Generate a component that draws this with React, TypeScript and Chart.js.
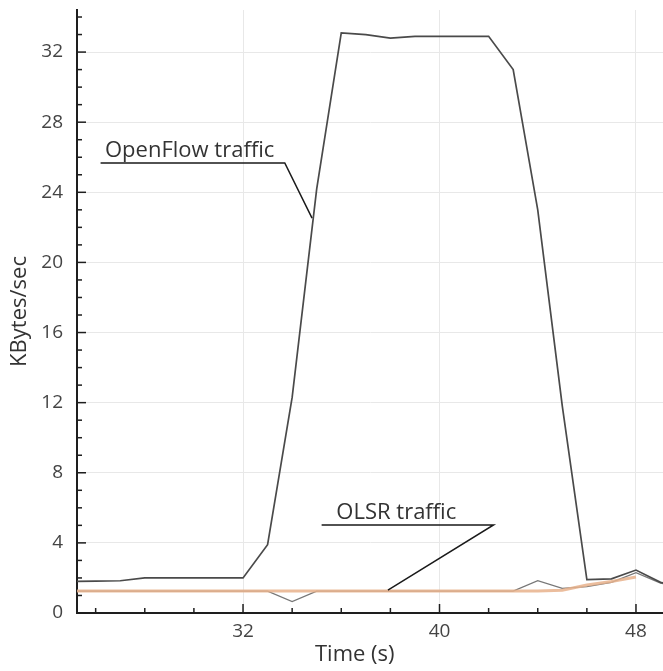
import React, { useEffect, useRef } from "react";
import { Chart, registerables } from "chart.js";

Chart.register(...registerables);

// ---- data ----
const TIME = [25, 26, 27, 28, 29, 30, 31, 32, 33, 34, 35, 36, 37, 38, 39, 40, 41, 42, 43, 44, 45, 46, 47, 48, 49, 50];
const OPENFLOW = [1.8, 1.82, 1.84, 2.0, 2.0, 2.0, 2.0, 2.0, 3.9, 12.3, 24.2, 33.1, 33.0, 32.8, 32.9, 32.9, 32.9, 32.9, 31.0, 23.0, 11.8, 1.9, 1.95, 2.45, 1.75, 1.5];
const OLSR = [1.25, 1.25, 1.25, 1.25, 1.25, 1.25, 1.25, 1.25, 1.25, 0.65, 1.25, 1.25, 1.25, 1.25, 1.25, 1.25, 1.25, 1.25, 1.25, 1.85, 1.4, 1.5, 1.75, 2.3, 1.7, 1.5];
const OLSR_BAND = [1.25, 1.25, 1.25, 1.25, 1.25, 1.25, 1.25, 1.25, 1.25, 1.25, 1.25, 1.25, 1.25, 1.25, 1.25, 1.25, 1.25, 1.25, 1.25, 1.25, 1.3, 1.6, 1.8, 2.05, null, null];

const Y_LABEL_TICKS = [0, 4, 8, 12, 16, 20, 24, 28, 32];
const X_LABEL_TICKS = [32, 40, 48];
const X_MIN = 25.24;
const X_MAX = 49.1;
const Y_MIN = 0;
const Y_MAX = 34.4;

const X_TITLE = "Time (s)";
const Y_TITLE = "KBytes/sec";

const ANNOT_TEXT = ["OpenFlow traffic", "OLSR traffic"];
const ANNOT_TEXT_X = [26.38, 35.8];
const ANNOT_LINE_X0 = [26.2, 35.2];
const ANNOT_LINE_X1 = [33.7, 42.2];
const ANNOT_LINE_Y = [25.67, 5.02];
const ANNOT_TARGET_X = [34.81, 37.9];
const ANNOT_TARGET_Y = [22.53, 1.31];

const FONT = '"Open Sans", "DejaVu Sans", sans-serif';

const overlayPlugin = {
  id: "overlay",
  afterDraw(chart: any) {
    const { ctx, chartArea } = chart;
    const xs = chart.scales.x;
    const ys = chart.scales.y;
    ctx.save();
    // inside ticks
    ctx.strokeStyle = "#1e1e1e";
    ctx.lineWidth = 1.5;
    for (let v = Math.ceil(Y_MIN); v <= Math.floor(Y_MAX); v++) {
      const py = ys.getPixelForValue(v);
      const len = v % 4 === 0 ? 9 : 5;
      ctx.beginPath();
      ctx.moveTo(chartArea.left, py);
      ctx.lineTo(chartArea.left + len, py);
      ctx.stroke();
    }
    for (let v = 26; v <= 48; v += 2) {
      const px = xs.getPixelForValue(v);
      const len = v % 8 === 0 ? 9 : 5;
      ctx.beginPath();
      ctx.moveTo(px, chartArea.bottom);
      ctx.lineTo(px, chartArea.bottom - len);
      ctx.stroke();
    }
    // annotations
    ctx.strokeStyle = "#1a1a1a";
    ctx.lineWidth = 1.5;
    ctx.fillStyle = "#333";
    ctx.font = "22px " + FONT;
    ctx.textAlign = "left";
    ctx.textBaseline = "alphabetic";
    for (let i = 0; i < ANNOT_TEXT.length; i++) {
      const ly = ys.getPixelForValue(ANNOT_LINE_Y[i]);
      const x0 = xs.getPixelForValue(ANNOT_LINE_X0[i]);
      const x1 = xs.getPixelForValue(ANNOT_LINE_X1[i]);
      const tx = xs.getPixelForValue(ANNOT_TARGET_X[i]);
      const ty = ys.getPixelForValue(ANNOT_TARGET_Y[i]);
      ctx.beginPath();
      ctx.moveTo(x0, ly);
      ctx.lineTo(x1, ly);
      ctx.lineTo(tx, ty);
      ctx.stroke();
      ctx.fillText(ANNOT_TEXT[i], xs.getPixelForValue(ANNOT_TEXT_X[i]), ly - 6);
    }
    // axis titles
    ctx.fillStyle = "#333";
    ctx.font = "22px " + FONT;
    ctx.textAlign = "center";
    ctx.textBaseline = "middle";
    ctx.fillText(X_TITLE, chartArea.left + chartArea.width * 0.474, chartArea.bottom + 42);
    ctx.translate(20, (chartArea.top + chartArea.bottom) / 2);
    ctx.rotate(-Math.PI / 2);
    ctx.fillText(Y_TITLE, 0, 0);
    ctx.restore();
  },
};

export default function App() {
  const ref = useRef<HTMLCanvasElement | null>(null);
  useEffect(() => {
    if (!ref.current) return;
    const chart = new Chart(ref.current, {
      type: "line",
      data: {
        datasets: [
          {
            label: "OpenFlow traffic",
            data: TIME.map((t, i) => ({ x: t, y: OPENFLOW[i] })),
            borderColor: "#4a4a4a",
            borderWidth: 1.7,
            pointRadius: 0,
            tension: 0,
            order: 0,
          },
          {
            label: "OLSR traffic band",
            data: TIME.map((t, i) => ({ x: t, y: OLSR_BAND[i] })),
            borderColor: "rgba(232,178,140,0.85)",
            borderWidth: 3,
            pointRadius: 0,
            tension: 0,
            spanGaps: false,
            order: 1,
          },
          {
            label: "OLSR traffic",
            data: TIME.map((t, i) => ({ x: t, y: OLSR[i] })),
            borderColor: "#777",
            borderWidth: 1.3,
            pointRadius: 0,
            tension: 0,
            order: 2,
          },
        ],
      },
      options: {
        responsive: false,
        animation: false,
        layout: { padding: { top: 10, right: 0, left: 0, bottom: 0 } },
        plugins: { legend: { display: false }, tooltip: { enabled: false } },
        scales: {
          x: {
            type: "linear",
            min: X_MIN,
            max: X_MAX,
            afterBuildTicks: (s: any) => {
              s.ticks = X_LABEL_TICKS.map((v) => ({ value: v }));
            },
            afterFit: (s: any) => {
              s.height = 58;
              s.paddingLeft = 0;
              s.paddingRight = 0;
            },
            grid: { color: "#e8e8e8", lineWidth: 1, drawTicks: false },
            border: { display: true, color: "#1e1e1e", width: 2 },
            ticks: {
              color: "#444",
              font: { family: FONT, size: 19 },
              padding: 7,
              maxRotation: 0,
              autoSkip: false,
            },
          },
          y: {
            type: "linear",
            min: Y_MIN,
            max: Y_MAX,
            afterBuildTicks: (s: any) => {
              s.ticks = Y_LABEL_TICKS.map((v) => ({ value: v }));
            },
            afterFit: (s: any) => {
              s.width = 77;
              s.paddingTop = 0;
              s.paddingBottom = 0;
            },
            grid: { color: "#e8e8e8", lineWidth: 1, drawTicks: false },
            border: { display: true, color: "#1e1e1e", width: 2 },
            ticks: {
              color: "#444",
              font: { family: FONT, size: 19 },
              padding: 14,
              autoSkip: false,
            },
          },
        },
      },
      plugins: [overlayPlugin],
    });
    return () => chart.destroy();
  }, []);
  return (
    <div style={{ position: "fixed", left: 0, top: 0, width: 663, height: 671, background: "#fff" }}>
      <canvas ref={ref} width={663} height={671} style={{ display: "block" }} />
    </div>
  );
}
